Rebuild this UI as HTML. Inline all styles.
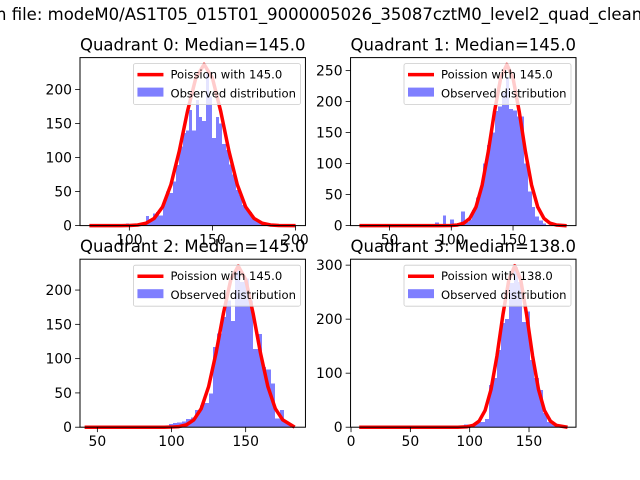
<!DOCTYPE html>
<html><head><meta charset="utf-8"><style>
body{margin:0;background:#fff;}
svg{display:block;font-family:"DejaVu Sans","Liberation Sans",sans-serif;}
</style></head><body>
<svg id="fig" width="640" height="480" viewBox="0 0 640 480">
<text x="-4" y="20" font-size="16.5">n file: modeM0/AS1T05_015T01_9000005026_35087cztM0_level2_quad_clean.evt</text>
</svg>
<script>
// Quadrant 0
const q0Title = "Quadrant 0: Median=145.0";
const q0Label = "Poission with 145.0";
const q0XTicks = [100, 150, 200];
const q0YTicks = [0, 50, 100, 150, 200];
const q0BinStart = [96,98,100,102,104,106,108,110,112,114,116,118,120,122,124,126,128,130,132,134,136,138,140,142,144,146,148,150,152,154,156,158,160,162,164,166,168,170,172,174,176,178,180,182,184];
const q0BinCount = [0,3,1,1,2,3,5,14,10,18,20,15,33,50,48,65,89,116,136,140,170,140,185,160,154,226,190,129,160,150,120,111,90,75,52,45,30,25,20,12,7,5,3,1,1];
const q0CurveX = [77,85,90,95,100,105,110,115,120,125,130,135,140,145,150,155,160,165,170,175,180,185,190,199];
const q0CurveY = [0,0,0,0.05,0.2,0.9,3.5,10.7,27.5,60,109,168,217,237,217,168,109,60,27.5,10.7,3.5,0.9,0.2,0];

// Quadrant 1
const q1Title = "Quadrant 1: Median=145.0";
const q1Label = "Poission with 145.0";
const q1XTicks = [50, 100, 150];
const q1YTicks = [0, 50, 100, 150, 200, 250];
const q1BinStart = [87,90,93,96,99,102,105,108,111,114,117,120,123,126,129,132,135,138,141,144,147,150,153,156,159,162,165,168,171,174,177];
const q1BinCount = [5,0,16,2,10,0,4,23,6,10,25,45,60,100,130,150,185,192,215,240,188,186,176,176,100,55,30,15,8,3,1];
const q1CurveX = [27,60,90,100,105,110,115,120,125,130,135,140,145,150,155,160,165,170,175,180,185,192];
const q1CurveY = [0,0,0,0.2,1,3.8,11.7,30,65.5,120,184,238,260,238,184,120,65.5,30,11.7,3.8,1,0];

// Quadrant 2
const q2Title = "Quadrant 2: Median=145.0";
const q2Label = "Poission with 145.0";
const q2XTicks = [50, 100, 150];
const q2YTicks = [0, 50, 100, 150, 200];
const q2BinStart = [98,101,104,107,110,113,116,119,122,125,128,131,134,137,140,143,146,149,152,155,158,161,164,167,170,173,176,179];
const q2BinCount = [5,6,7,8,12,14,25,32,35,49,117,137,161,185,155,229,212,217,185,114,136,88,84,64,13,25,8,3];
const q2CurveX = [42.6,70,95,100,105,110,115,120,125,130,135,140,145,150,155,160,165,170,175,182];
const q2CurveY = [0,0,0,0.2,0.9,3.4,10.6,27,59,108,166,215.5,235,215.5,166,108,59,27,10.6,1.5];

// Quadrant 3
const q3Title = "Quadrant 3: Median=138.0";
const q3Label = "Poission with 138.0";
const q3XTicks = [0, 50, 100, 150];
const q3YTicks = [0, 100, 200, 300];
const q3BinStart = [88,91.5,95,98.5,102,105.5,109,112.5,116,119.5,123,126.5,130,133.5,137,140.5,144,147.5,151,154.5,158,161.5,165,168.5,172];
const q3BinCount = [2,3,5,5,6,8,10,15,78,91,143,193,200,267,297,269,195,214,124,91,69,26,10,6,3];
const q3CurveX = [8.4,60,90,98,103,108,113,118,123,128,133,138,143,148,153,158,163,168,173,181];
const q3CurveY = [0,0,0,0.9,3.5,11.4,31,70,132,208,273,299,273,208,132,70,31,11.4,3.5,0.5];

const NS = "http://www.w3.org/2000/svg";
const svg = document.getElementById('fig');
function mk(tag, attrs, parent){const e=document.createElementNS(NS,tag);for(const k in attrs)e.setAttribute(k,attrs[k]);(parent||svg).appendChild(e);return e;}

function panel(idx, box, xDom, yMax, title, label, xTicks, yTicks, binStart, binCount, binW, cx, cy){
  const [L,T,W,H] = box;
  const g = mk('g',{});
  
  
  const sx = v => L + (v - xDom[0]) / (xDom[1] - xDom[0]) * W;
  const sy = v => T + H - v / yMax * H;
  const clip = mk('clipPath',{id:'clip'+idx},g);
  mk('rect',{x:L,y:T,width:W,height:H},clip);
  const bars = mk('g',{'clip-path':'url(#clip'+idx+')','shape-rendering':'crispEdges'},g);
  for(let i=0;i<binStart.length;i++){
    const x0=Math.round(sx(binStart[i])), x1=Math.round(sx(binStart[i]+binW)), y=sy(binCount[i]);
    const r = mk('rect',{x:x0,y:y,width:Math.max(0,x1-x0),height:sy(0)-y,fill:'#0000ff','fill-opacity':0.5},bars);
    
    
  }
  let pts = cx.map((x,i)=>sx(x).toFixed(2)+','+sy(cy[i]).toFixed(2)).join(' ');
  const line = mk('polyline',{points:pts,fill:'none',stroke:'#ff0000','stroke-width':3.5,'stroke-linejoin':'round','stroke-linecap':'square'},g);
  
  
  const frame = mk('rect',{x:L,y:T,width:W,height:H,fill:'none',stroke:'#000','stroke-width':1},g);
  
  
  xTicks.forEach(t=>{
    const x=sx(t);
    mk('line',{x1:x,x2:x,y1:T+H,y2:T+H+4.9,stroke:'#000','stroke-width':0.8},g);
    const tx = mk('text',{x:x,y:T+H+19,'font-size':13.9,'text-anchor':'middle'},g);
    tx.textContent = t;
    
    
  });
  yTicks.forEach(t=>{
    const y=sy(t);
    mk('line',{x1:L-4.9,x2:L,y1:y,y2:y,stroke:'#000','stroke-width':0.8},g);
    const ty = mk('text',{x:L-8,y:y+5,'font-size':13.9,'text-anchor':'end'},g);
    ty.textContent = t;
    
    
  });
  const tt = mk('text',{x:L+W/2,y:T-7,'font-size':16.5,'text-anchor':'middle'},g);
  tt.textContent = title;
  
  
  const lg = mk('g',{},g);
  
  
  const lx = L+W-172, ly = T+6;
  mk('rect',{x:lx,y:ly,width:167,height:41,rx:2,fill:'#fff','fill-opacity':0.8,stroke:'#cccccc','stroke-width':0.8},lg);
  mk('line',{x1:lx+4,x2:lx+30,y1:ly+11,y2:ly+11,stroke:'#ff0000','stroke-width':3.5},lg);
  const l1 = mk('text',{x:lx+37,y:ly+15,'font-size':11.6},lg);
  l1.textContent = label;
  
  
  mk('rect',{x:lx+4,y:ly+24,width:26,height:9,fill:'#0000ff','fill-opacity':0.5},lg);
  const l2 = mk('text',{x:lx+37,y:ly+34,'font-size':11.6},lg);
  l2.textContent = 'Observed distribution';
  
  
}
panel(0,[80,57.6,225.45,168],[70.3,206],247,q0Title,q0Label,q0XTicks,q0YTicks,q0BinStart,q0BinCount,2,q0CurveX,q0CurveY);
panel(1,[350.55,57.6,225.45,168],[18.4,201],271,q1Title,q1Label,q1XTicks,q1YTicks,q1BinStart,q1BinCount,3,q1CurveX,q1CurveY);
panel(2,[80,259.2,225.45,168],[38.3,190.3],245,q2Title,q2Label,q2XTicks,q2YTicks,q2BinStart,q2BinCount,3,q2CurveX,q2CurveY);
panel(3,[350.55,259.2,225.45,168],[-0.4,189.6],311,q3Title,q3Label,q3XTicks,q3YTicks,q3BinStart,q3BinCount,3.5,q3CurveX,q3CurveY);
</script>
</body></html>
